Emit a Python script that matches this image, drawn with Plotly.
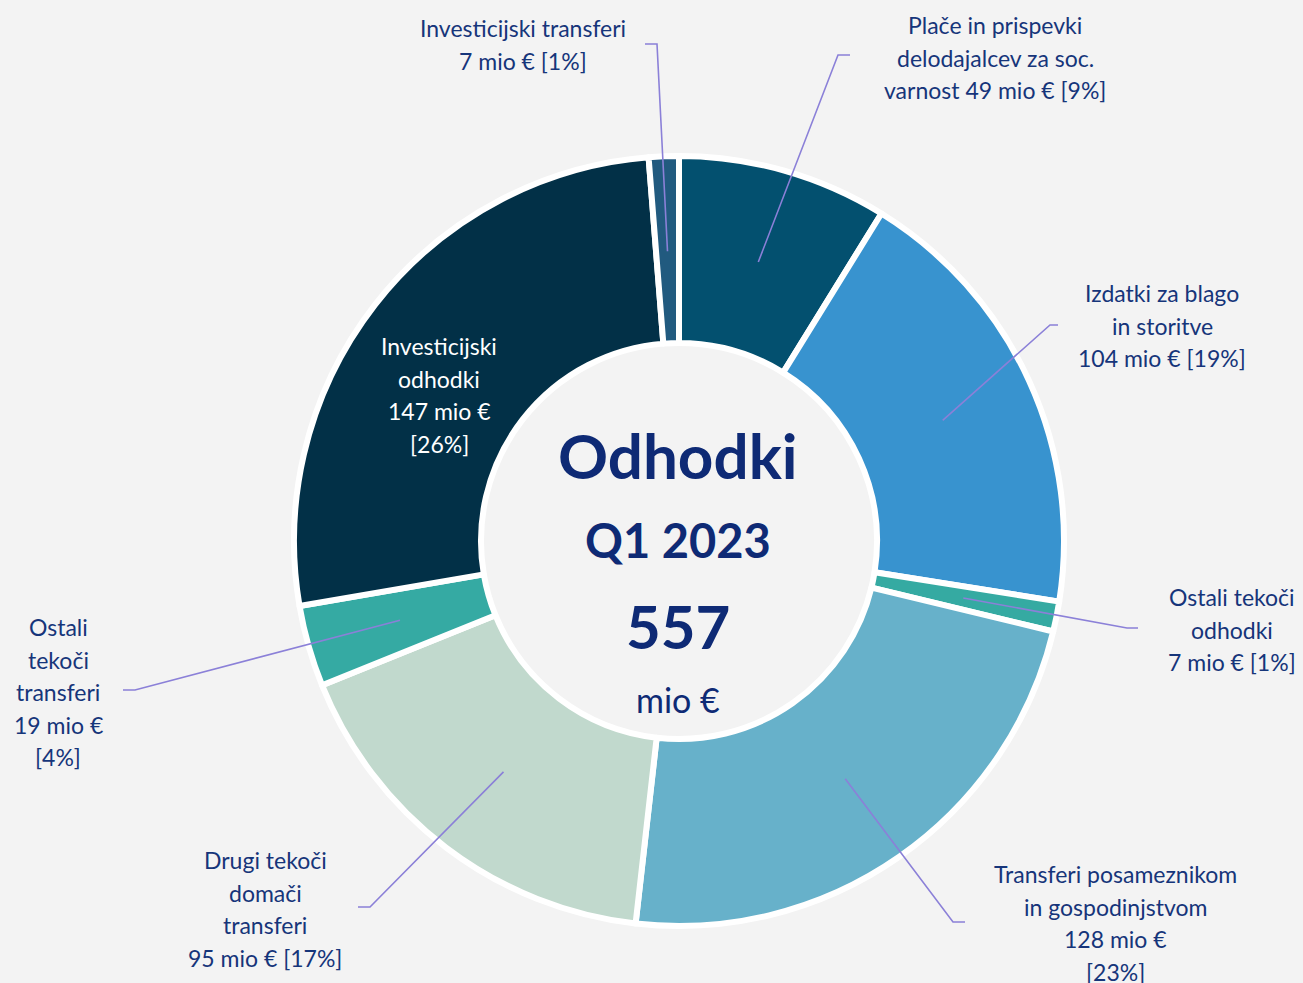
import math
import plotly.graph_objects as go

# ---------------- data ----------------
categories = [
    "Plače in prispevki delodajalcev za soc. varnost",
    "Izdatki za blago in storitve",
    "Ostali tekoči odhodki",
    "Transferi posameznikom in gospodinjstvom",
    "Drugi tekoči domači transferi",
    "Ostali tekoči transferi",
    "Investicijski odhodki",
    "Investicijski transferi",
]
values = [49, 104, 7, 128, 95, 19, 147, 7]
percents = [9, 19, 1, 23, 17, 4, 26, 1]
label_lines = [
    ["Plače in prispevki", "delodajalcev za soc.", "varnost 49 mio € [9%]"],
    ["Izdatki za blago", "in storitve", "104 mio € [19%]"],
    ["Ostali tekoči", "odhodki", "7 mio € [1%]"],
    ["Transferi posameznikom", "in gospodinjstvom", "128 mio €", "[23%]"],
    ["Drugi tekoči", "domači", "transferi", "95 mio € [17%]"],
    ["Ostali", "tekoči", "transferi", "19 mio €", "[4%]"],
    ["Investicijski", "odhodki", "147 mio €", "[26%]"],
    ["Investicijski transferi", "7 mio € [1%]"],
]
total_text = "557"
colors = ["#03506F", "#3893CF", "#35AAA2", "#67B1CA", "#C1D9CD", "#35AAA3", "#023047", "#215A7F"]

# ---------------- layout / positions (pixels) ----------------
W, H = 1303, 983
CX, CY, R_OUT, R_IN = 679, 541, 385, 198
BG = "#F3F3F3"
TXT = "#16357A"
LEAD = "#8B80D8"
FONT = "Lato"

# label block centre x, first-line y; elbow point, end point (None = inside label)
label_pos = [
    (995, 25, (838, 55), (850, 55)),
    (1162, 293, (1050, 325), (1058, 325)),
    (1232, 597, (1127, 628), (1138, 628)),
    (1115, 874, (953, 922), (965, 922)),
    (265, 860, (370, 907), (358, 907)),
    (58, 627, (135, 690), (123, 690)),
    (439, 346, None, None),
    (523, 28, (657, 44), (645, 44)),
]
LINE_H = 32.5

fig = go.Figure()
fig.add_trace(go.Pie(
    values=values,
    labels=categories,
    sort=False,
    direction="clockwise",
    rotation=0,
    hole=R_IN / R_OUT,
    marker=dict(colors=colors, line=dict(color="white", width=6)),
    textinfo="none",
    hoverinfo="label+value+percent",
    showlegend=False,
    domain=dict(x=[(CX - R_OUT) / W, (CX + R_OUT) / W],
                y=[(H - CY - R_OUT) / H, (H - CY + R_OUT) / H]),
))

# invisible pixel axes for leaders and text
fig.add_trace(go.Scatter(x=[0, W], y=[0, H], mode="markers",
                         marker=dict(opacity=0), hoverinfo="skip", showlegend=False))

total = sum(values)
cum = 0.0
annotations = []
shapes = []
R_MID = 290
for i, v in enumerate(values):
    mid = (cum + v / 2) / total * 2 * math.pi
    cum += v
    ax = CX + R_MID * math.sin(mid)
    ay = CY - R_MID * math.cos(mid)
    lx, ly, elbow, end = label_pos[i]
    if elbow is not None:
        shapes.append(dict(
            type="path", xref="x", yref="y",
            path=f"M {ax:.1f} {ay:.1f} L {elbow[0]} {elbow[1]} L {end[0]} {end[1]}",
            line=dict(color=LEAD, width=1.6),
        ))
    col = "white" if i == 6 else TXT
    for k, line in enumerate(label_lines[i]):
        annotations.append(dict(
            x=lx, y=ly + k * LINE_H, xref="x", yref="y", text=line,
            showarrow=False, xanchor="center", yanchor="middle",
            font=dict(family=FONT, size=23, color=col),
        ))

# centre text
center = [
    ("<b>Odhodki</b>", 455, 62),
    ("<b>Q1 2023</b>", 540, 47),
    (f"<b>{total_text}</b>", 626, 60),
    ("mio €", 699, 34),
]
for t, y, s in center:
    annotations.append(dict(
        x=CX - 1, y=y, xref="x", yref="y", text=t, showarrow=False,
        xanchor="center", yanchor="middle",
        font=dict(family=FONT, size=s, color="#0E2A75"),
    ))

fig.update_layout(
    width=W, height=H,
    margin=dict(l=0, r=0, t=0, b=0),
    paper_bgcolor=BG, plot_bgcolor="rgba(0,0,0,0)",
    xaxis=dict(range=[0, W], visible=False, domain=[0, 1], fixedrange=True),
    yaxis=dict(range=[H, 0], visible=False, domain=[0, 1], fixedrange=True),
    shapes=shapes,
    annotations=annotations,
)

fig.write_html(
    "out.html",
    config={"displayModeBar": False},
    post_script="document.body.style.margin='0';document.body.style.overflow='hidden';",
)
